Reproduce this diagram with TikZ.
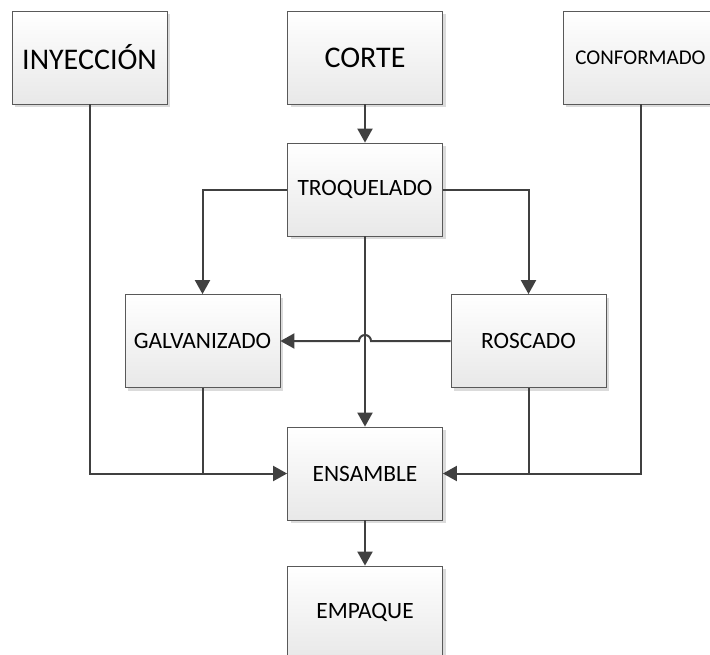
\documentclass[tikz,border=0pt]{standalone}
\usepackage{fontspec}
\setmainfont{Carlito}
\usetikzlibrary{arrows.meta,shadows,calc}

\tikzset{
  procbox/.style={rectangle, draw=black!65, line width=0.8pt,
    minimum width=155pt, minimum height=93pt, inner sep=0pt,
    top color=white, bottom color=black!9,
    drop shadow={shadow xshift=3pt, shadow yshift=-3pt, fill=black!14, opacity=1},
    font=\fontsize{23.4}{26}\selectfont},
  bigtext/.style={font=\fontsize{30}{34}\selectfont},
  smalltext/.style={font=\fontsize{21}{24}\selectfont},
  link/.style={draw=black!75, line width=2pt},
  flow/.style={link, -{Triangle[length=14pt,width=15pt]}}
}

\begin{document}
\begin{tikzpicture}[x=1pt, y=-1pt]
  \useasboundingbox (0,0) rectangle (710,654);

  % process boxes
  \node[procbox, bigtext]   (iny)  at (89.5,57.5)  {INYECCIÓN};
  \node[procbox, bigtext]   (cor)  at (365,57.5)   {CORTE};
  \node[procbox, smalltext] (conf) at (640.5,57.5) {CONFORMADO};
  \node[procbox]            (troq) at (365,189.5)  {TROQUELADO};
  \node[procbox]            (galv) at (202.5,341)  {GALVANIZADO};
  \node[procbox]            (ros)  at (528.5,341)  {ROSCADO};
  \node[procbox]            (ens)  at (365,473.5)  {ENSAMBLE};
  \node[procbox]            (emp)  at (365,612.5)  {EMPAQUE};

  % hop point where the ROSCADO line crosses the vertical line
  \coordinate (hop) at (troq.south |- ros.west);

  % connectors
  \draw[flow] (cor.south) -- (troq.north);
  \draw[flow] (troq.west) -| (galv.north);
  \draw[flow] (troq.east) -| (ros.north);
  \draw[flow] (troq.south) -- (ens.north);
  \draw[flow] (ros.west) -- ($(hop)+(6,0)$) arc[start angle=0, end angle=-180, radius=6] -- (galv.east);
  \draw[flow] (iny.south) |- (ens.west);
  \draw[link] (galv.south) -- (galv.south |- ens.west);
  \draw[flow] (conf.south) |- (ens.east);
  \draw[link] (ros.south) -- (ros.south |- ens.east);
  \draw[flow] (ens.south) -- (emp.north);
\end{tikzpicture}
\end{document}
